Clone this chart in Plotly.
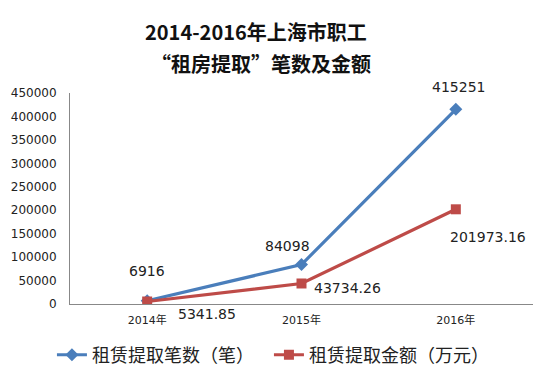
import plotly.graph_objects as go

categories = ["2014年", "2015年", "2016年"]
count_values = [6916, 84098, 415251]
amount_values = [5341.85, 43734.26, 201973.16]
count_labels = ["6916", "84098", "415251"]
amount_labels = ["5341.85", "43734.26", "201973.16"]
series_names = ["租赁提取笔数（笔）", "租赁提取金额（万元）"]
tick_values = [0, 50000, 100000, 150000, 200000, 250000, 300000, 350000, 400000, 450000]

BLUE = "#4A7EBB"
RED = "#BE4B48"
FONT = "DejaVu Sans, Noto Sans CJK SC, sans-serif"

fig = go.Figure()
fig.add_trace(go.Scatter(
    x=categories, y=count_values, name=series_names[0], mode="lines+markers",
    line=dict(color=BLUE, width=3.2),
    marker=dict(symbol="diamond", size=10, color=BLUE),
))
fig.add_trace(go.Scatter(
    x=categories, y=amount_values, name=series_names[1], mode="lines+markers",
    line=dict(color=RED, width=3.2),
    marker=dict(symbol="square", size=10, color=RED),
))

count_offsets = [(0, 30), (-14, 19), (3, 22)]
amount_offsets = [(60, -12), (46, -5), (32, -28)]
annotations = []
for c, v, t, (dx, dy) in zip(categories, count_values, count_labels, count_offsets):
    annotations.append(dict(x=c, y=v, xref="x", yref="y", text=t, showarrow=False,
                            xshift=dx, yshift=dy, font=dict(family=FONT, size=14, color="#222")))
for c, v, t, (dx, dy) in zip(categories, amount_values, amount_labels, amount_offsets):
    annotations.append(dict(x=c, y=v, xref="x", yref="y", text=t, showarrow=False,
                            xshift=dx, yshift=dy, font=dict(family=FONT, size=14, color="#222")))

title_font = dict(family="Noto Sans CJK SC, DejaVu Sans, sans-serif", size=20, color="#111")
annotations.append(dict(x=0.402, y=1, xref="paper", yref="paper", yshift=62,
                        text="<b>2014-2016年上海市职工</b>", showarrow=False, font=title_font,
                        xanchor="center", yanchor="middle"))
annotations.append(dict(x=0.412, y=1, xref="paper", yref="paper", yshift=30,
                        text="<b>“租房提取”笔数及金额</b>", showarrow=False, font=title_font,
                        xanchor="center", yanchor="middle"))

fig.update_layout(
    width=550, height=375,
    margin=dict(l=62, r=25, t=85, b=79, autoexpand=False),
    paper_bgcolor="white", plot_bgcolor="white",
    showlegend=True,
    legend=dict(orientation="h", x=-0.039, xanchor="left", y=-0.242, yanchor="middle",
                font=dict(family="Noto Sans CJK SC, sans-serif", size=18, color="#222"),
                itemwidth=30, tracegroupgap=0, entrywidth=172, entrywidthmode="pixels"),
    annotations=annotations,
    xaxis=dict(type="category", range=[-0.5, 2.5], showgrid=False, showline=True,
               linecolor="#888", linewidth=1, ticks="", zeroline=False,
               ticklabelstandoff=6,
               tickfont=dict(family=FONT, size=11, color="#222")),
    yaxis=dict(range=[0, 450000], tickvals=tick_values, showgrid=False, showline=True,
               linecolor="#888", linewidth=1, ticks="", zeroline=False,
               tickformat="d", ticklabelstandoff=10,
               tickfont=dict(family=FONT, size=12, color="#222")),
)

fig.write_html("out.html")
